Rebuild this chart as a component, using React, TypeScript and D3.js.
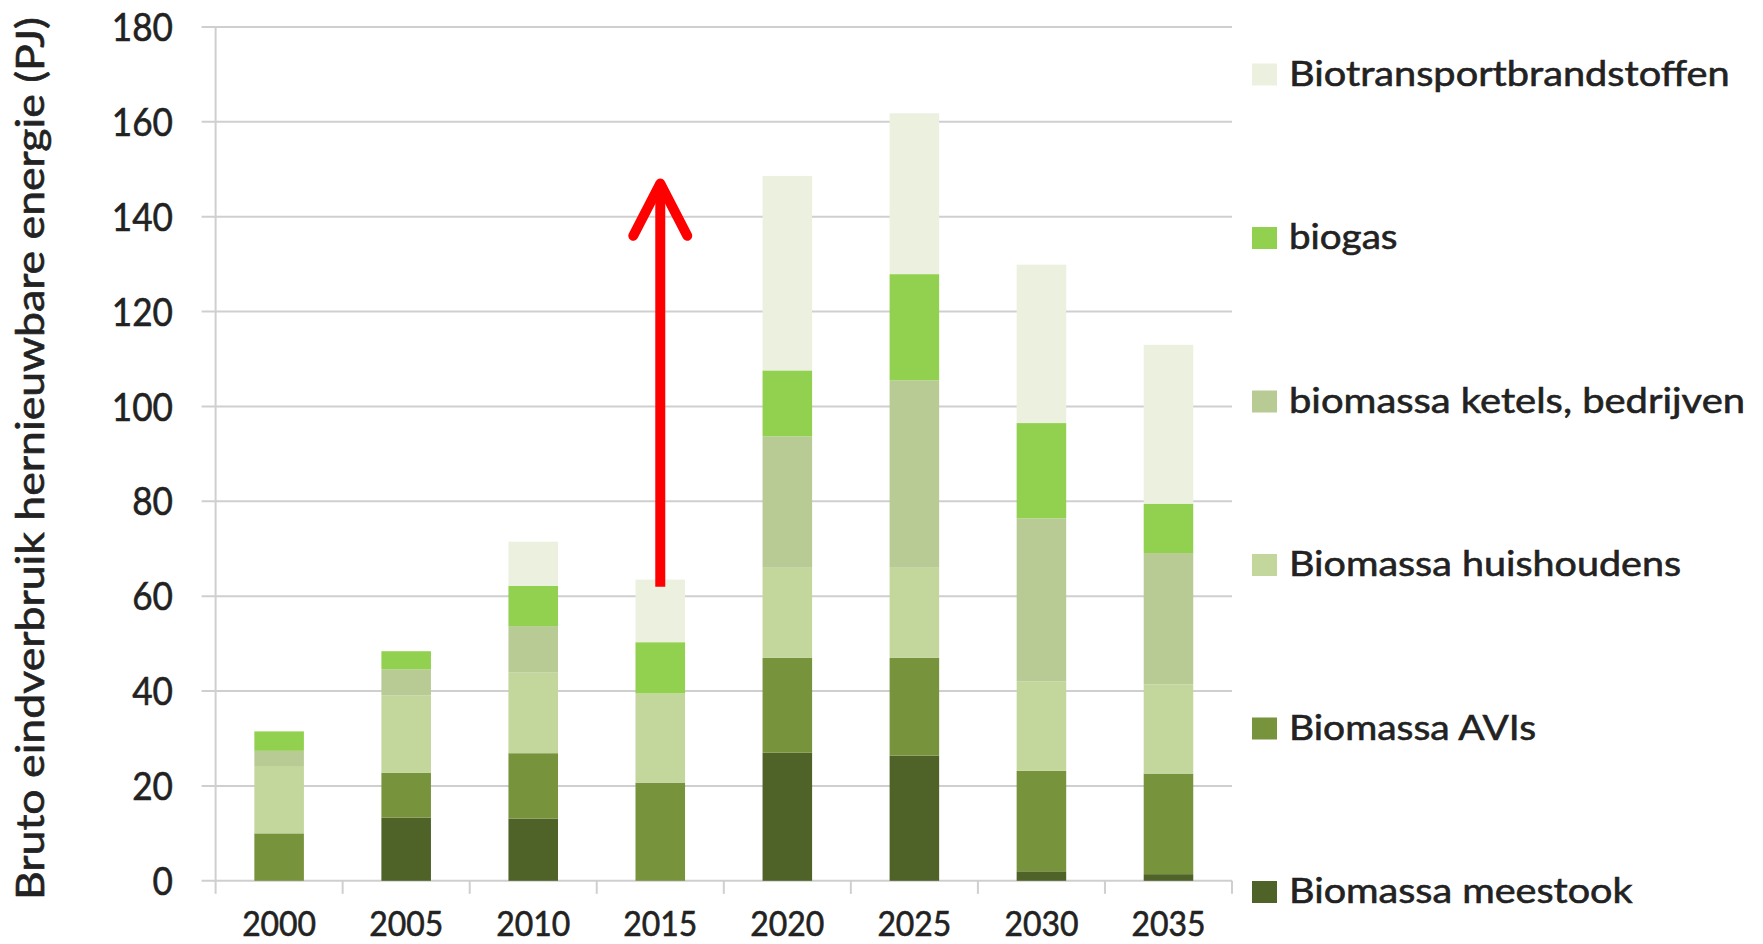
import React from "react";
import * as d3 from "d3";

// Bruto eindverbruik hernieuwbare energie uit biomassa, per jaar (PJ)
const years = ["2000", "2005", "2010", "2015", "2020", "2025", "2030", "2035"];
const meestook = [0, 13.3, 13.1, 0, 27.0, 26.4, 2.0, 1.4];
const avis = [10.0, 9.5, 13.8, 20.7, 20.0, 20.6, 21.2, 21.2];
const huishoudens = [14.2, 16.3, 17.0, 18.8, 19.0, 19.0, 18.8, 18.8];
const ketels = [3.2, 5.5, 9.8, 0, 27.7, 39.5, 34.4, 27.7];
const biogas = [4.1, 3.8, 8.5, 10.8, 13.9, 22.4, 20.1, 10.4];
const transport = [0, 0, 9.3, 13.2, 41.0, 33.9, 33.4, 33.5];

const seriesKeys = ["meestook", "avis", "huishoudens", "ketels", "biogas", "transport"];
const seriesLabels = [
  "Biomassa meestook",
  "Biomassa AVIs",
  "Biomassa huishoudens",
  "biomassa ketels, bedrijven",
  "biogas",
  "Biotransportbrandstoffen",
];
const seriesColors = ["#4f6228", "#77933c", "#c3d69b", "#b9cb95", "#92d050", "#ebf1de"];

const yTicks = [0, 20, 40, 60, 80, 100, 120, 140, 160, 180];

// Red arrow above the 2015 bar (values in PJ)
const arrowYear = "2015";
const arrowFrom = 62;
const arrowTo = 147;
const arrowWing = 136;

const W = 1763;
const H = 944;
const left = 215.6;
const right = 1232;
const top = 27;
const bottom = 880.8;
const font = "Lato, 'Open Sans', sans-serif";
const textColor = "#222222";
const gridColor = "#cfcfcf";

export default function App() {
  const rows = years.map((y, i) => ({
    year: y,
    meestook: meestook[i],
    avis: avis[i],
    huishoudens: huishoudens[i],
    ketels: ketels[i],
    biogas: biogas[i],
    transport: transport[i],
  }));
  const stacked = d3.stack<any>().keys(seriesKeys)(rows);

  const x = d3
    .scaleBand<string>()
    .domain(years)
    .range([left, right])
    .paddingInner(0.61)
    .paddingOuter(0.305);
  const y = d3.scaleLinear().domain([0, 180]).range([bottom, top]);
  const step = x.step();

  const ax = (x(arrowYear) as number) + x.bandwidth() / 2;
  const wingHalf = 27;

  // legend rows, top to bottom: last series first
  const legendOrder = [...seriesKeys.keys()].reverse();
  const legendWidths = [343.6, 247, 392, 456, 108.5, 440.6];

  const textStyle = { stroke: textColor, strokeWidth: 0.6 };

  return (
    <svg
      width={W}
      height={H}
      style={{ position: "absolute", left: 0, top: 0, background: "#fff" }}
      fontFamily={font}
    >
      <rect x={0} y={0} width={W} height={H} fill="#fff" />
      {/* horizontal gridlines with small outward ticks */}
      {yTicks.map((t) => (
        <line
          key={"g" + t}
          x1={left - 14}
          x2={right}
          y1={y(t)}
          y2={y(t)}
          stroke={gridColor}
          strokeWidth={2}
        />
      ))}
      {/* vertical axis line */}
      <line x1={left} x2={left} y1={top} y2={bottom} stroke={gridColor} strokeWidth={2} />
      {/* category ticks */}
      {years.concat(["end"]).map((yr, i) => (
        <line
          key={"t" + i}
          x1={left + i * step}
          x2={left + i * step}
          y1={bottom}
          y2={bottom + 13}
          stroke={gridColor}
          strokeWidth={2}
        />
      ))}

      {/* stacked bars */}
      {stacked.map((layer, si) => (
        <g key={layer.key} fill={seriesColors[si]}>
          {layer.map((d, i) =>
            d[1] - d[0] > 0 ? (
              <rect
                key={i}
                x={x(years[i]) as number}
                width={x.bandwidth()}
                y={y(d[1])}
                height={y(d[0]) - y(d[1])}
              />
            ) : null
          )}
        </g>
      ))}

      {/* y tick labels */}
      {yTicks.map((t) => {
        const s = String(t);
        return (
          <text
            key={"yl" + t}
            x={173}
            y={y(t)}
            dy="0.36em"
            textAnchor="end"
            fontSize={39}
            fill={textColor}
            style={textStyle}
            textLength={s.length * 20.4}
            lengthAdjust="spacingAndGlyphs"
          >
            {s}
          </text>
        );
      })}

      {/* x tick labels */}
      {years.map((yr) => (
        <text
          key={"xl" + yr}
          x={(x(yr) as number) + x.bandwidth() / 2}
          y={936}
          textAnchor="middle"
          fontSize={34}
          fill={textColor}
          style={textStyle}
          textLength={74}
          lengthAdjust="spacingAndGlyphs"
        >
          {yr}
        </text>
      ))}

      {/* y axis title */}
      <text
        transform={`translate(44, ${(17 + 900) / 2}) rotate(-90)`}
        textAnchor="middle"
        fontSize={38}
        fill={textColor}
        style={textStyle}
        textLength={883}
        lengthAdjust="spacingAndGlyphs"
      >
        Bruto eindverbruik hernieuwbare energie (PJ)
      </text>

      {/* legend */}
      {legendOrder.map((si, row) => {
        const base = 85.5 + row * 163.5;
        return (
          <g key={"lg" + si}>
            <rect x={1252} y={base - 22} width={25} height={22} fill={seriesColors[si]} />
            <text
              x={1289}
              y={base}
              fontSize={35}
              fill={textColor}
              style={textStyle}
              textLength={legendWidths[si]}
              lengthAdjust="spacingAndGlyphs"
            >
              {seriesLabels[si]}
            </text>
          </g>
        );
      })}

      {/* arrow */}
      <g stroke="#ff0000" strokeWidth={10} fill="none" strokeLinecap="round" strokeLinejoin="round">
        <line x1={ax} x2={ax} y1={y(arrowFrom)} y2={y(arrowTo) + 6} strokeLinecap="butt" />
        <polyline
          points={`${ax - wingHalf},${y(arrowWing)} ${ax},${y(arrowTo)} ${ax + wingHalf},${y(arrowWing)}`}
        />
      </g>
    </svg>
  );
}
